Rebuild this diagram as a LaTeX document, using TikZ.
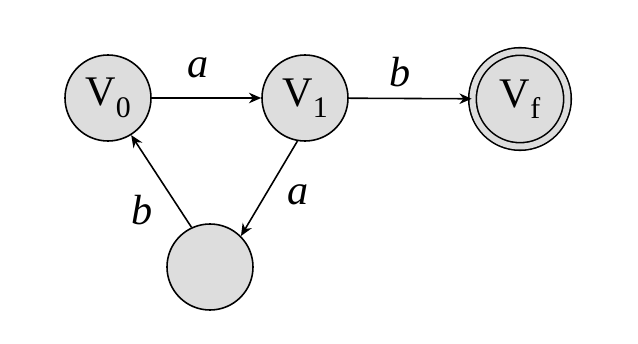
\documentclass[tikz,border=0pt]{standalone}
\usepackage{fontspec}
\setmainfont{Liberation Serif}
\usetikzlibrary{arrows.meta}
\definecolor{stategray}{RGB}{221,221,221}
\newcommand{\vsub}[1]{V\raisebox{-6.5pt}{\fontsize{17}{17}\selectfont #1}}
\tikzset{
  state/.style={circle, draw=black, line width=0.9pt, fill=stategray,
    minimum size=17.2mm, inner sep=0pt, font=\fontsize{24}{28}\selectfont},
  final/.style={state, minimum size=19.0mm, double=stategray, double distance=3.4pt},
  lbl/.style={inner sep=0pt, font=\fontsize{24}{28}\selectfont\itshape}
}
\begin{document}
\begin{tikzpicture}[
  >={Stealth[length=7pt, width=6pt]},
  x=0.2mm, y=-0.2mm
]
  \useasboundingbox (0,0) rectangle (638,344);

  % States
  \node[state] (v0) at (108,98) {\vsub{0}};
  \node[state] (v1) at (305,98) {\vsub{1}};
  \node[final] (vf) at (520,99) {\vsub{f}};
  \node[state] (q) at (210,267) {};

  % Transitions
  \draw[->, line width=0.9pt] (v0) -- (v1);
  \draw[->, line width=0.9pt] (v1) -- (vf);
  \draw[->, line width=0.9pt] (v1.260) -- (q.45);
  \draw[->, line width=0.9pt] (q.115) -- (v0.-58);

  % Labels
  \node[lbl] (la1) at (198,68) {a};
  \node[lbl] (lb1) at (400,72) {b};
  \node[lbl] (la2) at (298,195) {a};
  \node[lbl] (lb2) at (142,210) {b};
\end{tikzpicture}
\end{document}
